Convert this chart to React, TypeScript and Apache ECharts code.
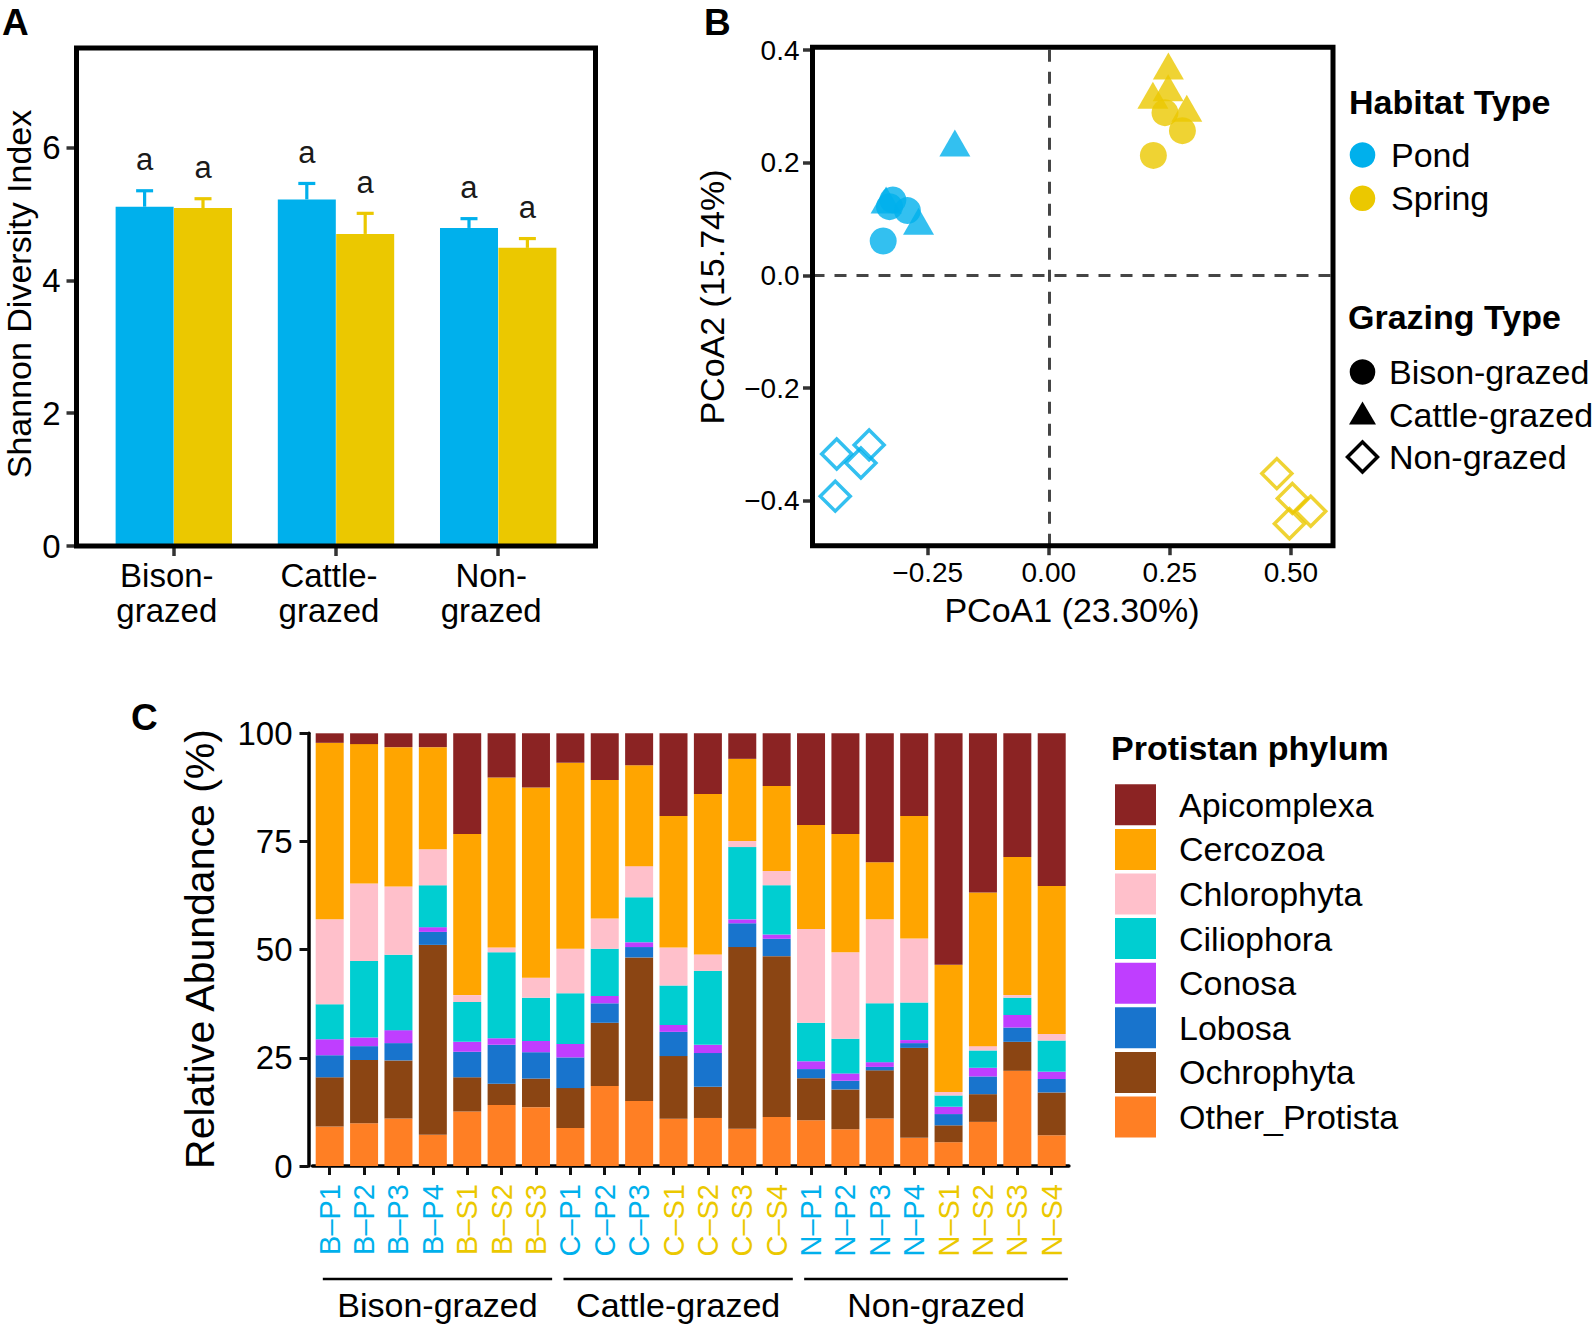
import React, { useEffect, useRef } from 'react';
import * as echarts from 'echarts';

const FONT = "'Liberation Sans', Arial, Helvetica, sans-serif";
const POND = '#00B0EC';
const SPRING = '#EBC800';

// ---------- Panel A: Shannon diversity ----------
const grazingTypes = ['Bison-grazed', 'Cattle-grazed', 'Non-grazed'];
const shannonPond = [5.11, 5.22, 4.79];
const shannonPondSE = [0.24, 0.24, 0.14];
const shannonSpring = [5.09, 4.7, 4.49];
const shannonSpringSE = [0.14, 0.31, 0.14];
const lettersPond = ['a', 'a', 'a'];
const lettersSpring = ['a', 'a', 'a'];
const shannonTicks = [0, 2, 4, 6];

// ---------- Panel B: PCoA ----------
const pcoaXTicks = [-0.25, 0, 0.25, 0.5];
const pcoaYTicks = [-0.4, -0.2, 0, 0.2, 0.4];
const pondBison = [[-0.322, 0.134], [-0.292, 0.115], [-0.329, 0.122], [-0.342, 0.061]];
const pondCattle = [[-0.194, 0.227], [-0.336, 0.126], [-0.269, 0.088]];
const pondNon = [[-0.438, -0.317], [-0.371, -0.301], [-0.388, -0.333], [-0.441, -0.392]];
const springBison = [[0.24, 0.289], [0.276, 0.257], [0.216, 0.213]];
const springCattle = [[0.247, 0.364], [0.2465, 0.325], [0.215, 0.312], [0.285, 0.289]];
const springNon = [[0.471, -0.352], [0.503, -0.396], [0.541, -0.419], [0.497, -0.441]];

// ---------- Panel C: relative abundance ----------
const samples = ['B–P1', 'B–P2', 'B–P3', 'B–P4', 'B–S1', 'B–S2', 'B–S3', 'C–P1', 'C–P2', 'C–P3', 'C–S1', 'C–S2', 'C–S3', 'C–S4', 'N–P1', 'N–P2', 'N–P3', 'N–P4', 'N–S1', 'N–S2', 'N–S3', 'N–S4'];
const phyla = ['Apicomplexa', 'Cercozoa', 'Chlorophyta', 'Ciliophora', 'Conosa', 'Lobosa', 'Ochrophyta', 'Other_Protista'];
const phylaColors = ['#8B2323', '#FFA500', '#FFC0CB', '#00CED1', '#BF3EFF', '#1874CD', '#8B4513', '#FF7F24'];
const apicomplexa = [2.2, 2.5, 3.2, 3.2, 23.3, 10.2, 12.5, 6.8, 10.8, 7.4, 19.1, 14.0, 5.9, 12.2, 21.2, 23.3, 29.8, 19.1, 53.5, 36.8, 28.6, 35.3];
const cercozoa = [40.8, 32.2, 32.2, 23.6, 37.2, 39.3, 44.0, 43.0, 32.0, 23.3, 30.4, 37.1, 19.0, 19.6, 24.0, 27.3, 13.2, 28.3, 29.4, 35.5, 31.9, 34.2];
const chlorophyta = [19.6, 17.9, 15.8, 8.3, 1.6, 1.1, 4.6, 10.3, 7.0, 7.2, 8.8, 3.8, 1.4, 3.3, 21.7, 20.0, 19.4, 14.8, 0.8, 1.0, 0.6, 1.5];
const ciliophora = [8.1, 17.7, 17.4, 9.7, 9.2, 19.9, 10.0, 11.7, 10.9, 10.4, 9.1, 17.1, 16.7, 11.4, 8.9, 8.0, 13.6, 8.7, 2.6, 4.0, 4.0, 7.2];
const conosa = [3.7, 2.0, 3.0, 1.1, 2.3, 1.5, 2.6, 3.1, 1.7, 1.1, 1.6, 1.9, 0.9, 1.0, 1.8, 1.7, 1.1, 0.7, 1.7, 2.0, 2.9, 1.7];
const lobosa = [5.1, 3.2, 4.0, 3.0, 5.9, 9.0, 6.1, 7.1, 4.5, 2.4, 5.6, 7.8, 5.5, 4.0, 2.1, 2.0, 0.8, 1.1, 2.6, 4.1, 3.3, 3.1];
const ochrophyta = [11.4, 14.6, 13.4, 43.9, 7.9, 4.9, 6.6, 9.2, 14.6, 33.2, 14.5, 7.2, 42.0, 37.2, 9.7, 9.2, 11.1, 20.8, 3.9, 6.4, 6.7, 9.9];
const otherProtista = [9.1, 9.9, 11.0, 7.2, 12.6, 14.1, 13.6, 8.8, 18.5, 15.0, 10.9, 11.1, 8.6, 11.3, 10.6, 8.5, 11.0, 6.5, 5.5, 10.2, 22.0, 7.1];

const phylumValues = [apicomplexa, cercozoa, chlorophyta, ciliophora, conosa, lobosa, ochrophyta, otherProtista];

// ---------- layout ----------
const GA = { left: 76.5, top: 48, width: 519, height: 498 };
const GB = { left: 812.5, top: 47.3, width: 520.5, height: 498.4 };
const GC = { left: 312.5, top: 733.3, width: 756.4, height: 432.7 };

const sampleColor = (s: string) => (s.split('–')[1][0] === 'P' ? POND : SPRING);
const fmtSigned = (v: number, d: number) => (v < 0 ? '−' : '') + Math.abs(v).toFixed(d);

function buildOption() {
  // Panel A data
  const barData: any[] = [];
  const errData: any[] = [];
  const letters: string[] = [];
  grazingTypes.forEach((_, i) => {
    barData.push({ value: [i - 0.18, shannonPond[i]], itemStyle: { color: POND } });
    barData.push({ value: [i + 0.18, shannonSpring[i]], itemStyle: { color: SPRING } });
    errData.push([i - 0.18, shannonPond[i], shannonPondSE[i], 0]);
    errData.push([i + 0.18, shannonSpring[i], shannonSpringSE[i], 1]);
    letters.push(lettersPond[i], lettersSpring[i]);
  });

  // Panel C group spans
  const prefixes = ['B', 'C', 'N'];
  const groupSpans = prefixes.map((p) => {
    const idx = samples.map((s, i) => (s[0] === p ? i : -1)).filter((i) => i >= 0);
    return [idx[0], idx[idx.length - 1]];
  });

  const tickStyle = { color: '#333', width: 3.5 };
  const noLine = { show: false, onZero: false };

  const series: any[] = [
    {
      type: 'bar',
      xAxisIndex: 0,
      yAxisIndex: 0,
      barWidth: 58,
      data: barData,
      z: 2,
    },
    {
      type: 'custom',
      xAxisIndex: 0,
      yAxisIndex: 0,
      z: 3,
      data: errData,
      renderItem: (params: any, api: any) => {
        const x = api.value(0);
        const m = api.value(1);
        const se = api.value(2);
        const col = api.value(3) === 0 ? POND : SPRING;
        const p0 = api.coord([x, m]);
        const p1 = api.coord([x, m + se]);
        const pl = api.coord([x, m + se + 0.47]);
        return {
          type: 'group',
          children: [
            { type: 'line', shape: { x1: p0[0], y1: p0[1], x2: p1[0], y2: p1[1] }, style: { stroke: col, lineWidth: 3.2 } },
            { type: 'line', shape: { x1: p1[0] - 8.5, y1: p1[1], x2: p1[0] + 8.5, y2: p1[1] }, style: { stroke: col, lineWidth: 3.2 } },
            {
              type: 'text',
              x: pl[0],
              y: pl[1],
              style: { text: letters[params.dataIndex], fontSize: 31, fontFamily: FONT, fill: '#1a1a1a', align: 'center', verticalAlign: 'middle' },
            },
          ],
        };
      },
    },
  ];

  // Panel B scatter
  const scat = (data: number[][], color: string, kind: string) => {
    const base: any = { type: 'scatter', xAxisIndex: 1, yAxisIndex: 1, data, z: 3 };
    if (kind === 'circle') {
      base.symbol = 'circle';
      base.symbolSize = 27;
      base.itemStyle = { color };
    } else if (kind === 'triangle') {
      base.symbol = 'triangle';
      base.symbolSize = [31, 27];
      base.symbolOffset = [0, -4.5];
      base.itemStyle = { color };
    } else {
      base.symbol = 'diamond';
      base.symbolSize = [30, 30];
      base.itemStyle = { color: 'rgba(0,0,0,0)', borderColor: color, borderWidth: 3.5 };
    }
    return base;
  };
  const nonP = scat(pondNon, POND, 'diamond');
  nonP.markLine = {
    silent: true,
    symbol: 'none',
    label: { show: false },
    lineStyle: { color: '#454545', width: 3, type: [12, 10] },
    data: [{ xAxis: 0 }, { yAxis: 0 }],
  };
  series.push(
    nonP,
    scat(springNon, SPRING, 'diamond'),
    scat(pondCattle, POND, 'triangle'),
    scat(springCattle, SPRING, 'triangle'),
    scat(pondBison, POND, 'circle'),
    scat(springBison, SPRING, 'circle')
  );

  // Panel C stacked bars (bottom to top)
  for (let k = phyla.length - 1; k >= 0; k--) {
    series.push({
      type: 'bar',
      name: phyla[k],
      xAxisIndex: 2,
      yAxisIndex: 2,
      stack: 'abund',
      barWidth: 28,
      itemStyle: { color: phylaColors[k] },
      data: phylumValues[k],
    });
  }
  series.push({
    type: 'custom',
    xAxisIndex: 2,
    yAxisIndex: 2,
    clip: false,
    data: groupSpans,
    renderItem: (params: any, api: any) => {
      const band = api.size([1, 0])[0];
      const p0 = api.coord([api.value(0), 0]);
      const p1 = api.coord([api.value(1), 0]);
      const x0 = p0[0] - 0.2 * band;
      const x1 = p1[0] + 0.47 * band;
      const y = p0[1] + 113;
      return {
        type: 'group',
        children: [
          { type: 'line', shape: { x1: x0, y1: y, x2: x1, y2: y }, style: { stroke: '#000', lineWidth: 2.5 } },
          {
            type: 'text',
            x: (x0 + x1) / 2,
            y: y + 26,
            style: { text: grazingTypes[params.dataIndex], fontSize: 34, fontFamily: FONT, fill: '#000', align: 'center', verticalAlign: 'middle' },
          },
        ],
      };
    },
  });

  // Graphics: frames, titles, legends
  const g: any[] = [];
  const txt = (text: string, x: number, y: number, size: number, opts: any = {}) => ({
    type: 'text',
    x,
    y,
    rotation: opts.rotation || 0,
    z: 50,
    style: {
      text,
      fontSize: size,
      fontFamily: FONT,
      fontWeight: opts.bold ? 'bold' : 'normal',
      fill: '#000',
      align: opts.align || 'center',
      verticalAlign: 'middle',
    },
  });
  [GA, GB].forEach((gr) => {
    g.push({
      type: 'rect',
      z: 100,
      shape: { x: gr.left, y: gr.top, width: gr.width, height: gr.height },
      style: { fill: 'none', stroke: '#000', lineWidth: 5 },
    });
  });
  g.push(txt('A', 2, 22, 37, { bold: true, align: 'left' }));
  g.push(txt('B', 704, 22, 37, { bold: true, align: 'left' }));
  g.push(txt('C', 131, 717, 37, { bold: true, align: 'left' }));
  g.push(txt('Shannon Diversity Index', 19, 294, 34, { rotation: Math.PI / 2 }));
  g.push(txt('PCoA2 (15.74%)', 712, 297, 34, { rotation: Math.PI / 2 }));
  g.push(txt('PCoA1 (23.30%)', 1072, 610, 34));
  g.push(txt('Relative Abundance (%)', 200, 949, 41, { rotation: Math.PI / 2 }));

  // Legend B
  g.push(txt('Habitat Type', 1349, 102, 34, { bold: true, align: 'left' }));
  const habitats = [['Pond', POND], ['Spring', SPRING]];
  habitats.forEach(([name, col], i) => {
    const cy = 155 + i * 43.3;
    g.push({ type: 'circle', z: 50, shape: { cx: 1362.5, cy, r: 12.8 }, style: { fill: col } });
    g.push(txt(name, 1391, cy, 34, { align: 'left' }));
  });
  g.push(txt('Grazing Type', 1348, 317, 34, { bold: true, align: 'left' }));
  grazingTypes.forEach((name, i) => {
    const cy = 372 + i * 42.5;
    if (i === 0) g.push({ type: 'circle', z: 50, shape: { cx: 1362.5, cy, r: 12.8 }, style: { fill: '#000' } });
    if (i === 1)
      g.push({ type: 'polygon', z: 50, shape: { points: [[1362.5, cy - 13], [1376, cy + 10], [1349, cy + 10]] }, style: { fill: '#000' } });
    if (i === 2)
      g.push({
        type: 'polygon',
        z: 50,
        shape: { points: [[1362.5, cy - 15], [1377.5, cy], [1362.5, cy + 15], [1347.5, cy]] },
        style: { fill: 'none', stroke: '#000', lineWidth: 3.5 },
      });
    g.push(txt(name, 1389, cy, 34, { align: 'left' }));
  });

  // Legend C
  g.push(txt('Protistan phylum', 1111, 748, 34, { bold: true, align: 'left' }));
  phyla.forEach((name, i) => {
    const top = 784.3 + i * 44.6;
    g.push({ type: 'rect', z: 50, shape: { x: 1115, y: top, width: 41, height: 41 }, style: { fill: phylaColors[i] } });
    g.push(txt(name, 1179, top + 20.5, 34, { align: 'left' }));
  });

  return {
    animation: false,
    backgroundColor: '#fff',
    textStyle: { fontFamily: FONT },
    grid: [
      { left: GA.left, top: GA.top, width: GA.width, height: GA.height, containLabel: false },
      { left: GB.left, top: GB.top, width: GB.width, height: GB.height, containLabel: false },
      { left: GC.left, top: GC.top, width: GC.width, height: GC.height, containLabel: false },
    ],
    xAxis: [
      {
        type: 'value',
        gridIndex: 0,
        min: -0.6,
        max: 2.6,
        axisLine: noLine,
        splitLine: { show: false },
        axisTick: { show: true, length: 10, lineStyle: tickStyle, customValues: [0, 1, 2] },
        axisLabel: {
          customValues: [0, 1, 2],
          formatter: (v: number) => grazingTypes[Math.round(v)].replace('-', '-\n'),
          fontSize: 33,
          lineHeight: 35,
          padding: [0, 14, 0, 0],
          color: '#000',
          margin: 12,
          fontFamily: FONT,
        },
      },
      {
        type: 'value',
        gridIndex: 1,
        min: -0.488,
        max: 0.587,
        axisLine: noLine,
        splitLine: { show: false },
        axisTick: { show: true, length: 9.5, lineStyle: tickStyle, customValues: pcoaXTicks },
        axisLabel: {
          customValues: pcoaXTicks,
          formatter: (v: number) => fmtSigned(v, 2),
          fontSize: 28,
          color: '#000',
          margin: 13,
          fontFamily: FONT,
        },
      },
      {
        type: 'category',
        gridIndex: 2,
        data: samples,
        axisLine: { show: true, onZero: false, lineStyle: { color: '#000', width: 3.5 } },
        axisTick: { show: true, alignWithLabel: true, length: 9, lineStyle: { color: '#111', width: 3 } },
        splitLine: { show: false },
        axisLabel: {
          interval: 0,
          rotate: 90,
          fontSize: 29,
          margin: 18,
          fontFamily: FONT,
          color: (v: string) => sampleColor(v),
        },
      },
    ],
    yAxis: [
      {
        type: 'value',
        gridIndex: 0,
        min: 0,
        max: 7.5,
        axisLine: noLine,
        splitLine: { show: false },
        axisTick: { show: true, length: 10, lineStyle: tickStyle, customValues: shannonTicks },
        axisLabel: { customValues: shannonTicks, fontSize: 33, color: '#000', margin: 16, fontFamily: FONT },
      },
      {
        type: 'value',
        gridIndex: 1,
        min: -0.48,
        max: 0.405,
        axisLine: noLine,
        splitLine: { show: false },
        axisTick: { show: true, length: 9.5, lineStyle: tickStyle, customValues: pcoaYTicks },
        axisLabel: {
          customValues: pcoaYTicks,
          formatter: (v: number) => fmtSigned(v, 1),
          fontSize: 28,
          color: '#000',
          margin: 13,
          fontFamily: FONT,
        },
      },
      {
        type: 'value',
        gridIndex: 2,
        min: 0,
        max: 100,
        interval: 25,
        offset: 4,
        axisLine: { show: true, onZero: false, lineStyle: { color: '#000', width: 3.5 } },
        splitLine: { show: false },
        axisTick: { show: true, length: 9, lineStyle: { color: '#111', width: 3 } },
        axisLabel: { fontSize: 33, color: '#000', margin: 16, fontFamily: FONT },
      },
    ],
    series,
    graphic: { elements: g },
  };
}

export default function App() {
  const ref = useRef<HTMLDivElement>(null);
  useEffect(() => {
    document.body.style.margin = '0';
    if (!ref.current) return;
    const chart = echarts.init(ref.current, undefined, { renderer: 'svg' });
    chart.setOption(buildOption() as any);
    return () => chart.dispose();
  }, []);
  return <div ref={ref} style={{ width: 1594, height: 1327 }} />;
}
